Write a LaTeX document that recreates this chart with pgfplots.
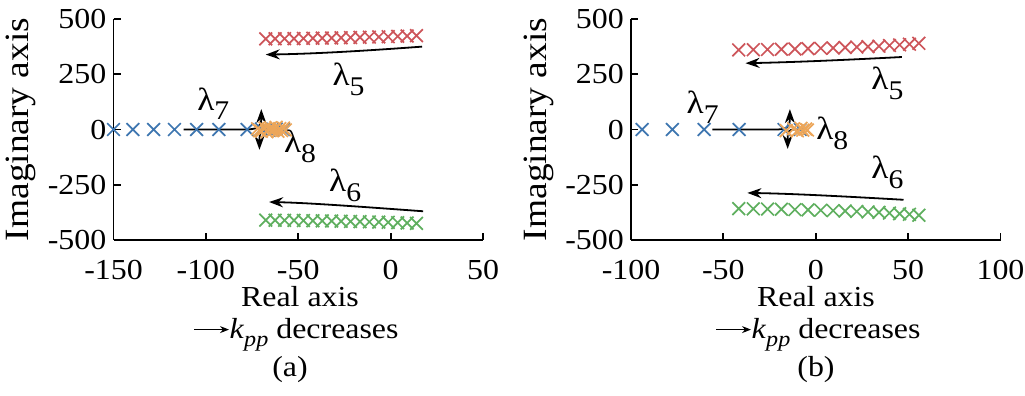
\documentclass[border=0pt]{standalone}
\usepackage{fontspec}
\setmainfont{Liberation Serif}[FakeStretch=1.1]
\usepackage{pgfplots}
\pgfplotsset{compat=1.18}
\usetikzlibrary{arrows.meta}
\definecolor{cblue}{RGB}{62,118,176}
\definecolor{cred}{RGB}{205,85,90}
\definecolor{cgreen}{RGB}{95,175,95}
\definecolor{corange}{RGB}{236,166,90}
\newcommand\F{\fontsize{29}{33}\selectfont}
\newcommand\Fy{\fontsize{34}{38}\selectfont}
\newcommand\lam[1]{{\fontsize{32}{34}\selectfont λ\raisebox{-0.3em}{\fontsize{27}{27}\selectfont #1}}}
\newcommand\kpp{\tikz[baseline=-0.3em]\draw[line width=1.1pt,-{Stealth[length=9pt,width=7pt]}] (0,0)--(35pt,0);\textit{k}\raisebox{-0.3em}{\fontsize{22}{22}\selectfont\itshape pp} decreases}
\tikzset{ann/.style={line width=1.8pt, -{Stealth[length=14pt,width=10pt]}}}
\pgfplotsset{
  rl/.style={
    scale only axis, width=369.5pt, height=221pt, anchor=south west,
    ymin=-500, ymax=500,
    axis lines=left, axis line style={-, line width=1.8pt},
    ytick={-500,-250,0,250,500}, yticklabels={-500,-250,0,250,500},
    tick align=inside, major tick length=7pt,
    every tick/.style={black, line width=1.8pt},
    ticklabel style={font=\F, inner sep=0pt},
    yticklabel style={xshift=-7pt},
    xticklabel style={yshift=-20pt},
    clip=false,
    mark size=9pt,
  },
  xs/.style={only marks, mark=x, #1, mark options={line width=1.7pt}},
}
\begin{document}
\begin{tikzpicture}[font=\F]
\useasboundingbox (0,0) rectangle (1025pt,396pt);
% ---------------- (a)
\begin{axis}[rl, at={(113.5pt,156pt)}, xmin=-150, xmax=50,
  xtick={-150,-100,-50,0,50}, xticklabels={-150,-100,-50,0,50}]
\addplot[xs=cred] coordinates {(-67.6,410) (-62.5,410.5) (-57.4,411) (-52.3,411.5) (-47.2,412) (-42.1,413) (-37.0,413.5) (-31.9,414) (-26.8,415) (-21.7,416) (-16.6,417) (-11.5,418) (-6.4,419) (-1.3,420) (3.8,421.5) (8.9,423) (14.0,425)};
\addplot[xs=cgreen] coordinates {(-67.6,-410) (-62.5,-410.5) (-57.4,-411) (-52.3,-411.5) (-47.2,-412) (-42.1,-413) (-37.0,-413.5) (-31.9,-414) (-26.8,-415) (-21.7,-416) (-16.6,-417) (-11.5,-418) (-6.4,-419) (-1.3,-420) (3.8,-421.5) (8.9,-423) (14.0,-425)};
\addplot[xs=cblue] coordinates {(-150,0) (-139.5,0) (-128.3,0) (-117,0) (-105,0) (-93,0) (-77.7,0) (-70,2) (-66,-2) (-62,2) (-58,0)};
\addplot[xs=corange] coordinates {(-72,3) (-71,-5) (-70,-8) (-68,6) (-67,-10) (-66,2) (-65,8) (-64,-6) (-63,0) (-62,10) (-61,-8) (-60,4) (-59,-5) (-58,6) (-57,-2)};
\draw[ann] (axis cs:17,375) .. controls (axis cs:-20,352) and (axis cs:-45,342) .. (axis cs:-67.6,339);
\draw[ann] (axis cs:17.6,-370) .. controls (axis cs:-20,-347) and (axis cs:-45,-332) .. (axis cs:-65.8,-328);
\draw[ann] (axis cs:-112,0) -- (axis cs:-80,0) .. controls (axis cs:-72,0) and (axis cs:-70,8) .. (axis cs:-70,92);
\draw[ann] (axis cs:-60,0) -- (axis cs:-66,0) .. controls (axis cs:-70,0) and (axis cs:-71,-8) .. (axis cs:-71,-92);
\node at (axis cs:-22.8,228) {\lam{5}};
\node at (axis cs:-24.6,-253) {\lam{6}};
\node at (axis cs:-96,116) {\lam{7}};
\node at (axis cs:-49,-77) {\lam{8}};
\end{axis}
% ---------------- (b)
\begin{axis}[rl, at={(631pt,156pt)}, xmin=-100, xmax=100,
  xtick={-100,-50,0,50,100}, xticklabels={-100,-50,0,50,100}]
\addplot[xs=cred] coordinates {(-41.7,360) (-33.8,361) (-26.1,362) (-18.6,363) (-11.3,364.5) (-4.2,366) (2.7,367.5) (9.4,369) (15.9,371) (22.2,373) (28.3,375) (34.2,377) (39.9,380) (45.4,383) (50.7,386) (55.8,390)};
\addplot[xs=cgreen] coordinates {(-41.7,-358) (-33.8,-359) (-26.1,-360) (-18.6,-361) (-11.3,-362.5) (-4.2,-364) (2.7,-365.5) (9.4,-367) (15.9,-369) (22.2,-371) (28.3,-373) (34.2,-375) (39.9,-378) (45.4,-381) (50.7,-384) (55.8,-388)};
\addplot[xs=cblue] coordinates {(-94,0) (-77.6,0) (-60.4,0) (-41.5,0) (-17.2,0) (-8.4,0)};
\addplot[xs=corange] coordinates {(-16,-5) (-12,3) (-10,-6) (-8,5) (-7,-3) (-5.5,2) (-4.5,-2)};
\draw[ann] (axis cs:46.6,328) .. controls (axis cs:10,312) and (axis cs:-15,304) .. (axis cs:-38,300);
\draw[ann] (axis cs:47.5,-318) .. controls (axis cs:10,-300) and (axis cs:-15,-290) .. (axis cs:-37,-287);
\draw[ann] (axis cs:-56,0) -- (axis cs:-22,0) .. controls (axis cs:-16,0) and (axis cs:-14,8) .. (axis cs:-14,92);
\draw[ann] (axis cs:-5.7,0) -- (axis cs:-11,0) .. controls (axis cs:-15,0) and (axis cs:-15.2,-8) .. (axis cs:-15.2,-88);
\node at (axis cs:38.8,208) {\lam{5}};
\node at (axis cs:38.8,-193) {\lam{6}};
\node at (axis cs:-61.2,100) {\lam{7}};
\node at (axis cs:9,-18) {\lam{8}};
\end{axis}
% ---------------- labels
\node[rotate=90, font=\Fy] at (21pt,266.5pt) {Imaginary axis};
\node[rotate=90, font=\Fy] at (539pt,266.5pt) {Imaginary axis};
\node[anchor=base] at (300pt,89.3pt) {Real axis};
\node[anchor=base] at (296pt,57.7pt) {\kpp};
\node[anchor=base] at (290pt,19.3pt) {(a)};
\node[anchor=base] at (816pt,89.3pt) {Real axis};
\node[anchor=base] at (818pt,57.7pt) {\kpp};
\node[anchor=base] at (816pt,19.3pt) {(b)};
\end{tikzpicture}
\end{document}
